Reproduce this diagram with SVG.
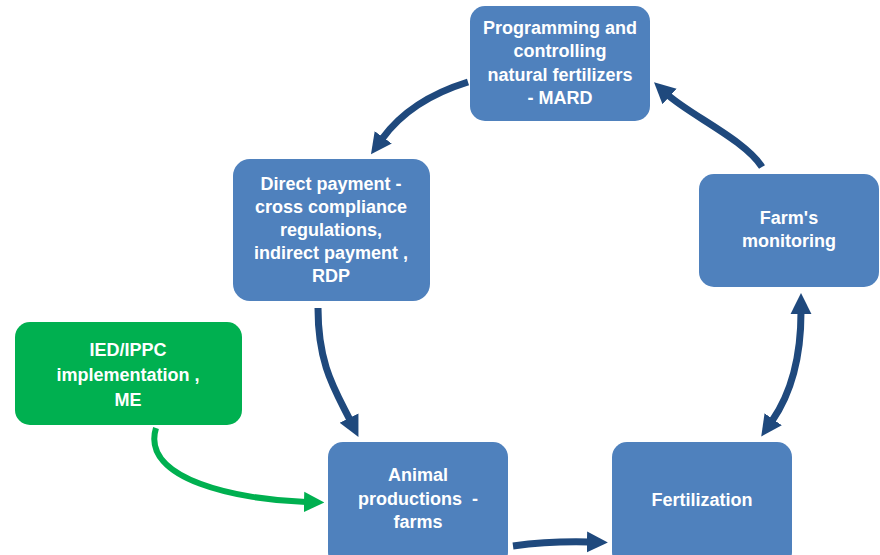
<svg xmlns="http://www.w3.org/2000/svg" width="880" height="555" viewBox="0 0 880 555">
<defs>
<style>
.box{fill:#4F81BD;}
.green{fill:#00B050;}
.t{font-family:"Liberation Sans",Arial,sans-serif;font-weight:bold;font-size:18px;fill:#FFFFFF;text-anchor:middle;}
.c{fill:none;stroke:#1F497D;stroke-width:7;}
.g{fill:none;stroke:#00B050;stroke-width:6;}
</style>
<marker id="ah" viewBox="0 0 10 10" refX="1" refY="5" markerWidth="3" markerHeight="3.4" orient="auto-start-reverse" markerUnits="strokeWidth">
<path d="M0,0 L10,5 L0,10 Z" fill="#1F497D"/>
</marker>
<marker id="ahg" viewBox="0 0 10 10" refX="1" refY="5" markerWidth="3.4" markerHeight="3.9" orient="auto" markerUnits="strokeWidth">
<path d="M0,0 L10,5 L0,10 Z" fill="#00B050"/>
</marker>
</defs>
<rect width="880" height="555" fill="#FFFFFF"/>
<g id="connectors">
<path class="c" d="M468,82 Q410,100 382,139" marker-end="url(#ah)"/>
<path class="c" d="M318,308 C318,365 335,390 350,420" marker-end="url(#ah)"/>
<path class="c" d="M513,546 Q550,541 589,542" marker-end="url(#ah)"/>
<path class="c" d="M772,421 C790,395 801,360 801,312" marker-start="url(#ah)" marker-end="url(#ah)"/>
<path class="c" d="M762,167 C745,140 690,115 668,95" marker-end="url(#ah)"/>
<path class="g" d="M156,428 C140,480 240,500 306,502" marker-end="url(#ahg)"/>
</g>
<g id="node-programming">
<rect class="box" x="470" y="6" width="180" height="115" rx="15"/>
<text class="t"><tspan x="560" y="34">Programming and</tspan><tspan x="560" y="57">controlling</tspan><tspan x="560" y="81">natural fertilizers</tspan><tspan x="560" y="104">- MARD</tspan></text>
</g>
<g id="node-direct-payment">
<rect class="box" x="233" y="159" width="197" height="142" rx="17"/>
<text class="t"><tspan x="331" y="190">Direct payment -</tspan><tspan x="331" y="213">cross compliance</tspan><tspan x="331" y="236">regulations,</tspan><tspan x="331" y="259">indirect payment ,</tspan><tspan x="331" y="282">RDP</tspan></text>
</g>
<g id="node-farms-monitoring">
<rect class="box" x="699" y="174" width="180" height="113" rx="15"/>
<text class="t"><tspan x="789" y="224">Farm's</tspan><tspan x="789" y="247">monitoring</tspan></text>
</g>
<g id="node-ied">
<rect class="green" x="15" y="322" width="227" height="103" rx="15"/>
<text class="t"><tspan x="128" y="356">IED/IPPC</tspan><tspan x="128" y="381">implementation ,</tspan><tspan x="128" y="406">ME</tspan></text>
</g>
<g id="node-animal">
<rect class="box" x="328" y="442" width="180" height="125" rx="15"/>
<text class="t" xml:space="preserve"><tspan x="418" y="481">Animal</tspan><tspan x="418" y="505">productions  -</tspan><tspan x="418" y="528">farms</tspan></text>
</g>
<g id="node-fertilization">
<rect class="box" x="612" y="442" width="180" height="125" rx="15"/>
<text class="t"><tspan x="702" y="506">Fertilization</tspan></text>
</g>
</svg>
